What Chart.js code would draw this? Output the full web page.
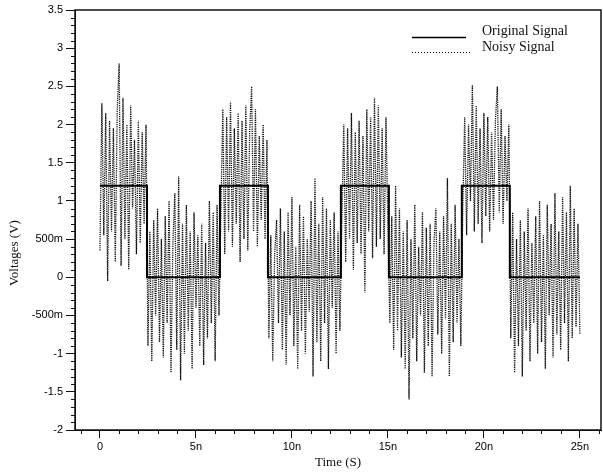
<!DOCTYPE html>
<html>
<head>
<meta charset="utf-8">
<script src="https://cdn.jsdelivr.net/npm/chart.js@4/dist/chart.umd.min.js"></script>
<style>
    html, body { margin: 0; padding: 0; background: #fff; }
    #wrap { width: 603px; height: 472px; }
</style>
</head>
<body>
<div id="wrap"><canvas id="signalChart" width="603" height="472"></canvas></div>
<script>
// Square wave: edge times (ns) and level held after each edge
const edgeTimes = [0, 2.45, 6.25, 8.75, 12.55, 15.05, 18.85, 21.35, 25];
const edgeLevels = [1.2, 0, 1.2, 0, 1.2, 0, 1.2, 0, 0];

// Noisy signal, one sample every 0.1 ns, read segment by segment
const sampleStep = 0.1;
const noisyHigh1 = [0.35, 2.28, 0.55, 2.15, -0.05, 2.05, 0.6, 1.95, 0.2, 2.2, 2.8, 0.15, 2.35, 0.5, 2.0, 0.1, 2.25, 0.9, 1.8, 0.3, 2.05, 0.45, 1.9, 0.7, 2.0];
const noisyLow1 = [-0.9, 0.6, -1.1, 0.75, -0.5, 0.9, -0.85, 0.5, -1.05, 0.8, -0.6, 1.0, -1.25, 0.45, 1.1, -0.95, 1.32, -1.35, 0.7, -1.0, 0.95, -0.7, 0.6, -1.2, 0.85, -0.4, 0.55, -0.9, 0.7, -1.15, 0.45, -0.8, 1.0, -0.6, 0.85, -1.1, 0.95, -0.5];
const noisyHigh2 = [0.85, 2.2, 0.3, 2.1, 0.6, 2.3, 0.4, 1.95, 0.7, 2.15, 0.2, 2.05, 0.5, 2.25, 0.35, 1.9, 2.5, 0.6, 2.2, 0.4, 1.85, 0.75, 2.0, 0.5, 1.8];
const noisyLow2 = [-0.8, 0.55, -1.1, 0.3, 0.75, -0.6, 0.9, -0.95, 0.6, -1.15, 0.85, -0.5, 1.05, -0.9, 0.4, -1.2, 0.95, -0.7, 0.8, -1.0, 0.5, -0.45, 1.0, -1.3, 1.3, -0.85, 0.7, -1.1, 1.05, -0.6, 0.9, -1.2, 0.75, -0.4, 0.85, -1.0, 0.6, -0.7];
const noisyHigh3 = [0.7, 2.0, 0.2, 1.95, 0.5, 2.15, 0.1, 1.9, 0.45, 2.05, 0.3, 1.85, -0.2, 2.2, 0.6, 2.1, 0.25, 2.35, 0.4, 2.25, 0.5, 1.95, 0.3, 2.1, 0.65];
const noisyLow3 = [-0.6, 0.8, -0.95, 1.2, -0.7, 0.9, -1.05, 0.6, -1.2, 0.75, -1.6, 0.5, -0.8, 0.95, -1.1, 0.4, -0.5, 0.85, -1.25, 0.65, -0.9, 0.7, -1.3, 0.45, 0.9, -0.75, 0.6, -1.0, 0.8, -0.55, 1.3, -1.3, 0.7, -0.85, 0.95, -0.6, 0.5, -0.9];
const noisyHigh4 = [0.9, 2.1, 0.55, 2.0, 1.0, 2.52, 0.6, 2.25, 0.7, 1.95, 0.45, 2.15, 0.8, 2.1, 0.6, 1.9, 0.75, 2.05, 2.5, 0.85, 2.2, 0.7, 1.85, 1.0, 2.0];
const noisyLow4 = [-0.8, 0.85, -1.25, 0.5, -0.9, 0.75, -1.3, 0.6, -0.7, 0.9, -1.1, 0.45, -0.6, 0.8, -1.0, 1.0, -0.85, 0.55, -1.2, 0.95, -0.5, 0.7, -1.05, 1.1, -0.75, 0.6, -0.95, 1.05, -0.6, 0.85, -1.1, 1.2, -0.8, 0.9, -0.65, 0.7, -0.75];

// Axis ticks
const xTickValues = [0, 5, 10, 15, 20, 25];
const yTickValues = [-2, -1.5, -1, -0.5, 0, 0.5, 1, 1.5, 2, 2.5, 3, 3.5];

const noisyValues = [].concat(noisyHigh1, noisyLow1, noisyHigh2, noisyLow2,
    noisyHigh3, noisyLow3, noisyHigh4, noisyLow4);
const noisyPoints = noisyValues.map((v, i) => ({ x: +(i * sampleStep).toFixed(2), y: v }));
const squarePoints = edgeTimes.map((t, i) => ({ x: t, y: edgeLevels[i] }));

function voltLabel(v) {
    if (Math.abs(v) === 0.5) return (v < 0 ? '-' : '') + '500m';
    return String(v);
}

// Frame, minor ticks, axis titles and in-plot legend
const decorPlugin = {
    id: 'decor',
    afterDraw(chart) {
        const ctx = chart.ctx;
        const a = chart.chartArea;
        const xs = chart.scales.x;
        const ys = chart.scales.y;
        ctx.save();
        ctx.strokeStyle = '#111';
        ctx.lineWidth = 1.5;
        ctx.strokeRect(a.left, a.top, a.right - a.left, a.bottom - a.top);

        ctx.lineWidth = 1;
        ctx.beginPath();
        for (let k = -20; k <= 35; k++) {
            const v = k / 10;
            if (k % 5 === 0) continue;
            const py = Math.round(ys.getPixelForValue(v)) + 0.5;
            ctx.moveTo(a.left - 4, py);
            ctx.lineTo(a.left, py);
        }
        for (let k = -1; k <= 26; k++) {
            if (k % 5 === 0) continue;
            const px = Math.round(xs.getPixelForValue(k)) + 0.5;
            ctx.moveTo(px, a.bottom);
            ctx.lineTo(px, a.bottom + 4);
        }
        ctx.stroke();

        ctx.fillStyle = '#111';
        ctx.font = '13px "Liberation Serif", "Times New Roman", serif';
        ctx.textAlign = 'center';
        ctx.textBaseline = 'middle';
        ctx.fillText('Time (S)', 338, 463);
        ctx.save();
        ctx.translate(15, 253);
        ctx.rotate(-Math.PI / 2);
        ctx.fillText('Voltages (V)', 0, 0);
        ctx.restore();

        // legend
        ctx.textAlign = 'left';
        ctx.font = '14px "Liberation Serif", "Times New Roman", serif';
        ctx.fillText(chart.data.datasets[0].label, 482, 31);
        ctx.fillText(chart.data.datasets[1].label, 482, 47);
        ctx.strokeStyle = '#000';
        ctx.lineWidth = 1.5;
        ctx.beginPath();
        ctx.moveTo(412, 37.5);
        ctx.lineTo(466, 37.5);
        ctx.stroke();
        ctx.lineWidth = 1.2;
        ctx.setLineDash([1, 2]);
        ctx.beginPath();
        ctx.moveTo(412, 52.5);
        ctx.lineTo(472, 52.5);
        ctx.stroke();
        ctx.restore();
    }
};

new Chart(document.getElementById('signalChart').getContext('2d'), {
    type: 'line',
    data: {
        datasets: [
            {
                label: 'Original Signal',
                data: squarePoints,
                stepped: 'before',
                borderColor: '#000',
                borderWidth: 2,
                pointRadius: 0,
                fill: false,
                order: 0
            },
            {
                label: 'Noisy Signal',
                data: noisyPoints,
                borderColor: '#111',
                borderWidth: 1.3,
                borderDash: [1.2, 1],
                pointRadius: 0,
                tension: 0,
                fill: false,
                order: 1
            }
        ]
    },
    options: {
        responsive: false,
        animation: false,
        layout: { padding: { top: 10, right: 2, left: 0, bottom: 0 } },
        plugins: {
            legend: { display: false },
            tooltip: { enabled: false }
        },
        scales: {
            x: {
                type: 'linear',
                min: -1.3,
                max: 26.1,
                afterBuildTicks: s => { s.ticks = xTickValues.map(v => ({ value: v })); },
                afterFit: s => { s.height = 42; },
                grid: { drawOnChartArea: false, tickLength: 8, color: '#111' },
                border: { display: true, color: '#111' },
                ticks: {
                    padding: 2,
                    maxRotation: 0,
                    color: '#000',
                    font: { family: '"Liberation Sans", Arial, sans-serif', size: 11 },
                    callback: v => (v === 0 ? '0' : v + 'n')
                }
            },
            y: {
                min: -2,
                max: 3.5,
                afterBuildTicks: s => { s.ticks = yTickValues.map(v => ({ value: v })); },
                afterFit: s => { s.width = 75; },
                grid: { drawOnChartArea: false, tickLength: 9, color: '#111' },
                border: { display: true, color: '#111' },
                ticks: {
                    padding: 3,
                    color: '#000',
                    font: { family: '"Liberation Sans", Arial, sans-serif', size: 11 },
                    callback: v => voltLabel(v)
                }
            }
        }
    },
    plugins: [decorPlugin]
});
</script>
</body>
</html>
